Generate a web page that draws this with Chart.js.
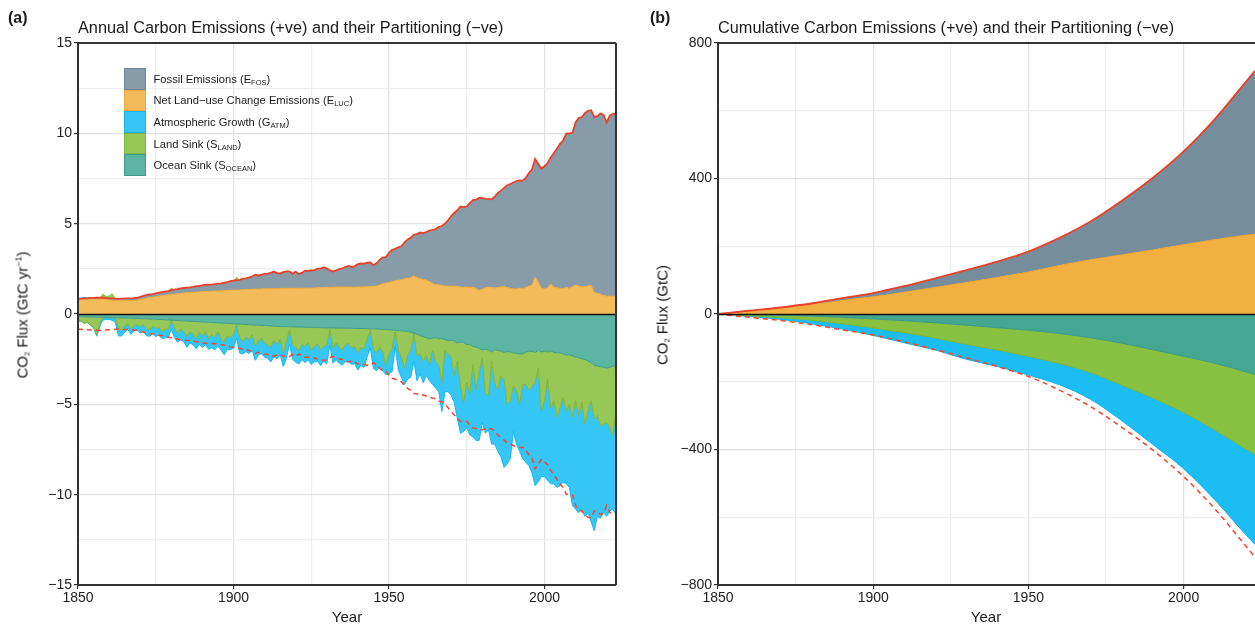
<!DOCTYPE html>
<html>
<head>
<meta charset="utf-8">
<script src="https://cdn.jsdelivr.net/npm/chart.js@4/dist/chart.umd.min.js"></script>
<style>
html, body { margin: 0; padding: 0; background: #fff; }
body { width: 1255px; height: 626px; overflow: hidden; position: relative;
  font-family: "Liberation Sans", Arial, sans-serif; color: #1a1a1a; }
canvas { position: absolute; top: 0; }
#cA { left: 0; }
#cB { left: 640px; }
.lbl { position: absolute; white-space: nowrap; }
.tag { font-weight: bold; font-size: 16px; }
.ttl { font-size: 16.3px; }
.ax { font-size: 15px; }
.ylab { transform: translate(-50%, -50%) rotate(-90deg); }
.legend { position: absolute; left: 124px; top: 68px; font-size: 11.2px; }
.legend .row { height: 21.6px; display: flex; align-items: center; }
.sw { box-sizing: border-box; width: 21.5px; height: 21.6px; border: 1px solid; margin-right: 8px; flex: none; }
sub { font-size: 7.5px; vertical-align: -2px; line-height: 0; }
sup { font-size: 9px; vertical-align: 6px; line-height: 0; }
</style>
</head>
<body>
<canvas id="cA" width="627" height="626"></canvas>
<canvas id="cB" width="615" height="626"></canvas>

<div class="lbl tag" style="left:8px;top:9px;">(a)</div>
<div class="lbl ttl" style="left:78px;top:18px;">Annual Carbon Emissions (+ve) and their Partitioning (−ve)</div>
<div class="lbl tag" style="left:650px;top:9px;">(b)</div>
<div class="lbl ttl" style="left:718px;top:18px;">Cumulative Carbon Emissions (+ve) and their Partitioning (−ve)</div>
<div class="lbl ax" style="left:347px;top:608px;transform:translateX(-50%);">Year</div>
<div class="lbl ax" style="left:986px;top:608px;transform:translateX(-50%);">Year</div>
<div class="lbl ax ylab" style="left:22px;top:315px;">CO<sub>2</sub> Flux (GtC yr<sup>−1</sup>)</div>
<div class="lbl ax ylab" style="left:662px;top:315px;">CO<sub>2</sub> Flux (GtC)</div>

<div class="legend">
  <div class="row"><div class="sw" style="background:#879ca8;border-color:#6f8796"></div><span>Fossil Emissions (E<sub>FOS</sub>)</span></div>
  <div class="row"><div class="sw" style="background:#f3bb5a;border-color:#f0a83a"></div><span>Net Land−use Change Emissions (E<sub>LUC</sub>)</span></div>
  <div class="row"><div class="sw" style="background:#35c6f6;border-color:#18b5ec"></div><span>Atmospheric Growth (G<sub>ATM</sub>)</span></div>
  <div class="row"><div class="sw" style="background:#97c857;border-color:#7fb33a"></div><span>Land Sink (S<sub>LAND</sub>)</span></div>
  <div class="row"><div class="sw" style="background:#5cb4a3;border-color:#3c9d8a"></div><span>Ocean Sink (S<sub>OCEAN</sub>)</span></div>
</div>

<script>
// ---- DATA: annual fluxes 1850-2023 (GtC/yr), sinks plotted negative ----
const years = Array.from({ length: 174 }, (_, i) => 1850 + i);

const efos = [
  0.05,0.05,0.06,0.06,0.07,0.07,0.07,0.08,0.08,0.09,
  0.09,0.10,0.10,0.10,0.11,0.12,0.12,0.13,0.13,0.14,
  0.15,0.16,0.17,0.18,0.17,0.18,0.19,0.19,0.20,0.21,
  0.24,0.25,0.26,0.28,0.28,0.28,0.28,0.30,0.33,0.33,
  0.36,0.38,0.38,0.37,0.38,0.41,0.42,0.44,0.47,0.51,
  0.53,0.55,0.56,0.62,0.62,0.66,0.71,0.80,0.74,0.79,
  0.82,0.84,0.88,0.94,0.85,0.84,0.90,0.94,0.94,0.81,
  0.93,0.80,0.85,0.97,0.96,0.98,0.98,1.06,1.05,1.12,
  1.03,0.94,0.86,0.91,0.98,1.02,1.11,1.16,1.10,1.16,
  1.26,1.30,1.29,1.33,1.33,1.17,1.26,1.40,1.46,1.43,
  1.63,1.75,1.77,1.82,1.85,2.02,2.14,2.22,2.28,2.42,
  2.55,2.56,2.66,2.81,2.95,3.08,3.21,3.29,3.45,3.64,
  3.89,4.04,4.22,4.45,4.44,4.44,4.68,4.83,4.91,5.12,
  5.03,4.92,4.88,4.89,5.05,5.22,5.33,5.46,5.67,5.77,
  5.88,5.98,5.95,5.98,6.08,6.25,6.40,6.55,6.55,6.62,
  6.80,6.90,7.00,7.40,7.70,8.00,8.20,8.50,8.60,8.50,
  9.00,9.30,9.40,9.60,9.70,9.70,9.70,9.80,10.00,10.00,
  9.60,10.00,10.10,10.10
];

const eluc = [
  0.80,0.80,0.81,0.81,0.82,0.82,0.83,0.83,0.82,0.80,
  0.78,0.76,0.75,0.74,0.74,0.74,0.74,0.74,0.75,0.76,
  0.80,0.84,0.87,0.90,0.93,0.96,0.99,1.02,1.04,1.06,
  1.08,1.10,1.12,1.14,1.16,1.18,1.19,1.20,1.21,1.22,
  1.23,1.24,1.25,1.26,1.27,1.27,1.28,1.29,1.30,1.31,
  1.32,1.33,1.33,1.34,1.35,1.36,1.37,1.38,1.38,1.39,
  1.40,1.40,1.40,1.41,1.41,1.41,1.42,1.42,1.42,1.42,
  1.42,1.42,1.42,1.43,1.43,1.43,1.44,1.45,1.46,1.47,
  1.48,1.48,1.49,1.50,1.50,1.50,1.50,1.50,1.49,1.49,
  1.50,1.50,1.50,1.51,1.52,1.53,1.55,1.60,1.68,1.72,
  1.75,1.80,1.84,1.87,1.90,1.95,1.98,2.00,2.12,2.00,
  1.96,1.92,1.88,1.80,1.70,1.62,1.62,1.58,1.55,1.55,
  1.53,1.55,1.52,1.50,1.48,1.50,1.46,1.48,1.42,1.30,
  1.38,1.45,1.48,1.46,1.44,1.48,1.50,1.52,1.46,1.42,
  1.40,1.38,1.44,1.40,1.45,1.55,1.60,2.03,1.75,1.42,
  1.38,1.45,1.66,1.50,1.45,1.42,1.40,1.48,1.40,1.52,
  1.60,1.55,1.50,1.52,1.55,1.58,1.20,1.15,1.10,1.02,
  1.00,0.98,0.98,0.98
];

const socean = [
  -0.15,-0.15,-0.16,-0.16,-0.17,-0.17,-0.18,-0.18,-0.19,-0.19,
  -0.20,-0.20,-0.21,-0.21,-0.22,-0.22,-0.23,-0.23,-0.24,-0.24,
  -0.25,-0.26,-0.27,-0.28,-0.28,-0.29,-0.30,-0.31,-0.32,-0.33,
  -0.34,-0.35,-0.36,-0.37,-0.38,-0.39,-0.40,-0.41,-0.42,-0.43,
  -0.44,-0.45,-0.46,-0.47,-0.48,-0.49,-0.50,-0.51,-0.52,-0.53,
  -0.54,-0.55,-0.56,-0.57,-0.58,-0.59,-0.60,-0.61,-0.62,-0.63,
  -0.64,-0.65,-0.66,-0.67,-0.68,-0.69,-0.70,-0.70,-0.71,-0.71,
  -0.72,-0.72,-0.73,-0.73,-0.74,-0.74,-0.75,-0.75,-0.76,-0.76,
  -0.77,-0.77,-0.77,-0.78,-0.78,-0.78,-0.79,-0.79,-0.79,-0.80,
  -0.80,-0.80,-0.81,-0.81,-0.82,-0.82,-0.83,-0.84,-0.85,-0.86,
  -0.87,-0.88,-0.90,-0.92,-0.93,-0.95,-0.98,-1.00,-1.05,-1.12,
  -1.20,-1.25,-1.32,-1.38,-1.35,-1.30,-1.38,-1.35,-1.42,-1.48,
  -1.45,-1.50,-1.60,-1.55,-1.58,-1.70,-1.68,-1.80,-1.82,-1.90,
  -2.00,-1.95,-2.00,-2.10,-1.98,-2.02,-2.05,-2.12,-2.08,-2.10,
  -2.15,-2.18,-2.22,-2.20,-2.12,-2.05,-2.08,-2.12,-2.02,-2.10,
  -2.05,-2.10,-2.05,-2.12,-2.15,-2.15,-2.20,-2.28,-2.25,-2.32,
  -2.38,-2.42,-2.48,-2.52,-2.60,-2.70,-2.85,-2.88,-2.92,-2.95,
  -3.00,-2.95,-2.90,-2.85
];

const sland = [
  -0.15,-0.25,-0.35,-0.30,-0.45,-0.55,-0.95,-0.40,0.25,0.10,
  0.15,0.30,0.05,-0.55,-0.70,-0.45,-0.30,-0.60,-0.40,-0.35,
  -0.45,-0.30,-0.55,-0.60,-0.40,-0.50,-0.45,-0.65,-0.55,-0.50,
  0.15,-0.40,-0.70,-0.45,-0.60,-0.85,-0.55,-0.70,-0.95,-0.60,
  -0.75,-0.55,-0.90,-0.65,-0.80,-0.50,-0.85,-1.05,-0.70,-0.75,
  -0.60,0.20,-0.75,-0.95,-0.70,-0.85,-0.55,-1.15,-0.90,-0.70,
  -0.95,-1.05,-1.15,-0.80,-1.00,-0.70,-1.45,-0.85,-0.15,-0.95,
  -1.15,-1.30,-0.95,-1.05,-0.85,-1.25,-1.05,-0.90,-1.20,-1.00,
  -0.95,-0.05,-1.15,-0.80,-1.05,-1.20,-0.90,-0.85,-1.10,-1.00,
  -1.35,-1.05,-1.10,-0.60,-0.05,-1.15,-1.30,-1.00,-1.25,-2.00,
  -1.33,-1.02,-0.10,-1.08,-1.47,-2.05,-1.32,-1.00,-0.05,-1.18,
  -1.00,-1.35,-0.98,-1.42,-0.65,-1.30,-1.42,-2.45,-0.58,-0.72,
  -0.95,-1.90,-1.00,-2.45,-3.32,-2.10,-2.72,-1.00,-2.38,-1.30,
  -0.40,-2.45,-2.50,-0.50,-1.82,-2.18,-1.35,-1.48,-2.92,-2.70,
  -1.85,-2.02,-2.78,-1.70,-1.78,-2.15,-1.92,-1.68,-0.98,-3.30,
  -2.75,-1.50,-3.15,-2.68,-3.55,-3.05,-2.40,-3.12,-2.75,-3.38,
  -2.42,-3.18,-2.42,-3.58,-2.80,-2.10,-2.95,-2.72,-3.28,-3.15,
  -3.00,-3.35,-3.80,-2.55
];

const gatm = [
  -0.10,0.06,0.08,0.06,0.03,-0.05,-0.10,-0.12,-0.15,-0.10,
  -0.10,-0.15,-0.25,-0.45,-0.30,-0.35,-0.30,-0.30,-0.28,-0.30,
  -0.35,-0.40,-0.38,-0.35,-0.40,-0.45,-0.42,-0.40,-0.45,-0.48,
  -0.50,-0.55,-0.50,-0.60,-0.55,-0.60,-0.65,-0.60,-0.55,-0.65,
  -0.65,-0.70,-0.60,-0.75,-0.70,-0.80,-0.65,-0.70,-0.75,-0.70,
  -0.75,-0.80,-0.85,-0.70,-0.80,-0.75,-0.85,-0.80,-0.75,-0.85,
  -0.80,-0.75,-0.85,-0.90,-0.80,-0.85,-0.75,-0.90,-0.80,-0.85,
  -0.80,-0.75,-0.85,-0.90,-0.95,-0.80,-0.85,-0.95,-0.90,-0.85,
  -1.05,-0.90,-0.80,-0.95,-0.90,-0.85,-0.95,-1.00,-0.90,-0.95,
  -0.95,-1.00,-1.05,-0.95,-1.00,-1.05,-1.00,-1.10,-1.05,-0.50,
  -1.10,-1.30,-0.80,-1.10,-1.10,-0.90,-1.30,-1.50,-1.50,-1.40,
  -1.10,-1.20,-1.10,-0.90,-1.90,-1.50,-1.50,-1.60,-2.30,-2.10,
  -2.10,-1.50,-3.20,-2.60,-1.60,-2.50,-2.30,-4.00,-2.80,-3.80,
  -3.60,-2.20,-1.90,-4.60,-3.40,-3.40,-4.50,-4.90,-3.30,-3.20,
  -2.50,-3.00,-2.60,-4.10,-4.30,-4.20,-4.80,-5.70,-6.30,-3.60,
  -4.20,-5.60,-4.20,-4.60,-3.90,-4.30,-4.70,-4.00,-4.60,-4.90,
  -6.00,-5.40,-5.90,-5.10,-5.60,-6.70,-6.20,-5.60,-5.10,-4.90,
  -5.20,-4.60,-4.10,-5.70
];

// ---- DATA: cumulative totals since 1850 (GtC) ----
const cumYears = [1850,1860,1870,1880,1890,1900,1910,1920,1930,1940,1950,1960,1970,1980,1990,2000,2010,2020,2023];
const cumFos   = [0,0.8,2.0,3.9,6.8,11.1,17.9,26.8,36.6,47.1,60.7,81.6,113.3,159.3,212.3,275.5,355.3,452.1,482.3];
const cumLuc   = [0,8.9,17.2,27.1,39.9,50.7,64.3,78.4,92.9,107.8,123.7,143.1,159.9,174.4,189.0,204.4,219.3,232.5,235.4];
const cumOcean = [0,-1.8,-3.7,-6.3,-10.0,-14.4,-19.9,-26.2,-33.1,-40.4,-48.0,-57.4,-70.1,-86.2,-105.3,-124.8,-145.3,-170.7,-178.6];
const cumLand  = [0,-3.4,-6.7,-12.1,-18.5,-26.8,-35.2,-44.9,-56.5,-65.6,-77.4,-88.7,-102.8,-123.2,-142.3,-166.0,-196.8,-227.5,-235.7];
const cumAtm   = [0,-2,-5.5,-10,-16,-22,-30,-35,-44,-49,-55,-63,-79,-105,-137,-166,-206,-253,-266];

// ---- UTILS ----
const FONT = '"Liberation Sans", Arial, sans-serif';
const minus = v => (v < 0 ? '\u2212' + Math.abs(v) : String(v));
const pts = (xs, arr) => arr.map((v, i) => ({ x: xs[i], y: Math.round(v * 1000) / 1000 }));

// stack boundaries, positives above emissions, negatives below zero
function stackAnnual() {
  const lucTop = eluc.slice();
  const fosTop = eluc.map((v, i) => v + efos[i]);
  const landUp = fosTop.map((v, i) => v + Math.max(sland[i], 0));
  const atmUp  = landUp.map((v, i) => v + Math.max(gatm[i], 0));
  const oceanBot = socean.slice();
  const landBot = socean.map((v, i) => v + Math.min(sland[i], 0));
  const atmBot  = landBot.map((v, i) => v + Math.min(gatm[i], 0));
  return { lucTop, fosTop, landUp, atmUp, oceanBot, landBot, atmBot };
}

const frame = {
  id: 'frame',
  afterDatasetsDraw(chart, args, opts) {
    const { ctx, chartArea: a, scales: { y } } = chart;
    const y0 = Math.round(y.getPixelForValue(0)) + 0.5;
    ctx.save();
    ctx.strokeStyle = '#111';
    ctx.lineWidth = 1.6;
    ctx.beginPath(); ctx.moveTo(a.left, y0); ctx.lineTo(a.right, y0); ctx.stroke();
    ctx.strokeStyle = '#333';
    ctx.lineWidth = 2;
    ctx.beginPath();
    ctx.moveTo(a.left, a.top); ctx.lineTo(a.right, a.top);
    ctx.moveTo(a.left, a.top); ctx.lineTo(a.left, a.bottom); ctx.lineTo(a.right, a.bottom);
    if (opts.right) { ctx.moveTo(a.right, a.top); ctx.lineTo(a.right, a.bottom); }
    ctx.stroke();
    ctx.restore();
  }
};

function area(data, bg, border, fill, bw = 1) {
  return { data, backgroundColor: bg, borderColor: border, borderWidth: bw, fill,
           pointRadius: 0, tension: 0, cubicInterpolationMode: 'default' };
}

function scalesFor(yMin, yMax, yStep, yLabelStep) {
  const major = '#e2e2e2', minor = '#efefef';
  return {
    x: {
      type: 'linear', min: 1850, max: 2023,
      afterFit: s => { s.height = 41; },
      border: { display: false },
      grid: {
        color: c => (c.tick && c.tick.value % 50 === 0 ? major : minor),
        lineWidth: 1.2, tickLength: 4,
        tickColor: c => (c.tick && c.tick.value % 50 === 0 ? '#333' : 'rgba(0,0,0,0)')
      },
      ticks: {
        stepSize: 25, includeBounds: false, autoSkip: false, maxRotation: 0, padding: 1,
        color: '#222', font: { family: FONT, size: 14 },
        callback: v => (v % 50 === 0 ? String(v) : '')
      }
    },
    y: {
      min: yMin, max: yMax,
      afterFit: s => { s.width = 78; },
      border: { display: false },
      grid: {
        color: c => (c.tick && c.tick.value === 0 ? 'rgba(0,0,0,0)' :
                     (c.tick && c.tick.value % yLabelStep === 0 ? major : minor)),
        lineWidth: 1.2, tickLength: 4,
        tickColor: c => (c.tick && c.tick.value % yLabelStep === 0 ? '#333' : 'rgba(0,0,0,0)')
      },
      ticks: {
        stepSize: yStep, padding: 2, color: '#222', font: { family: FONT, size: 14 },
        callback: v => (v % yLabelStep === 0 ? minus(v) : '')
      }
    }
  };
}

// ---- PANEL A ----
function drawAnnual() {
  const s = stackAnnual();
  const P = arr => pts(years, arr);
  new Chart(document.getElementById('cA'), {
    type: 'line',
    data: {
      datasets: [
        area(P(s.lucTop), '#f3bb5a', '#f0a83a', 'origin'),
        area(P(s.fosTop), '#879ca8', '#879ca8', 0, 0),
        area(P(s.landUp), '#97c857', '#97c857', 1, 0),
        area(P(s.atmUp), '#35c6f6', '#35c6f6', 2, 0),
        area(P(s.oceanBot), '#5cb4a3', '#3c9d8a', 'origin'),
        area(P(s.landBot), '#97c857', '#7fb33a', 4),
        area(P(s.atmBot), '#35c6f6', '#18b5ec', 5),
        { data: P(s.fosTop), borderColor: '#e8402a', borderWidth: 1.8, fill: false, pointRadius: 0, order: -2 },
        { data: P(s.fosTop.map(v => -v)), borderColor: '#f2452e', borderWidth: 1.5, borderDash: [5, 4],
          fill: false, pointRadius: 0, order: -1 }
      ]
    },
    options: {
      responsive: false, devicePixelRatio: 1, animation: false,
      layout: { padding: { top: 43, right: 11, bottom: 0, left: 0 } },
      plugins: { legend: { display: false }, tooltip: { enabled: false }, frame: { right: true } },
      scales: scalesFor(-15, 15, 2.5, 5)
    },
    plugins: [frame]
  });
}

// ---- PANEL B ----
function drawCumulative() {
  const P = arr => pts(cumYears, arr);
  const fosTop = cumLuc.map((v, i) => v + cumFos[i]);
  const landBot = cumOcean.map((v, i) => v + cumLand[i]);
  const atmBot = landBot.map((v, i) => v + cumAtm[i]);
  const smooth = d => Object.assign(d, { cubicInterpolationMode: 'monotone' });
  new Chart(document.getElementById('cB'), {
    type: 'line',
    data: {
      datasets: [
        smooth(area(P(cumLuc), '#f2b043', '#f0a530', 'origin')),
        smooth(area(P(fosTop), '#768e9c', '#768e9c', 0, 0)),
        smooth(area(P(cumOcean), '#45a692', '#3a9884', 'origin')),
        smooth(area(P(landBot), '#88c13f', '#7ab235', 2)),
        smooth(area(P(atmBot), '#1cbdf3', '#12b2ea', 3)),
        smooth({ data: P(fosTop), borderColor: '#e8402a', borderWidth: 1.8, fill: false, pointRadius: 0, order: -2 }),
        smooth({ data: P(fosTop.map(v => -v)), borderColor: '#f2452e', borderWidth: 1.5, borderDash: [5, 4],
          fill: false, pointRadius: 0, order: -1 })
      ]
    },
    options: {
      responsive: false, devicePixelRatio: 1, animation: false,
      layout: { padding: { top: 43, right: 0, bottom: 0, left: 0 } },
      plugins: { legend: { display: false }, tooltip: { enabled: false }, frame: { right: false } },
      scales: scalesFor(-800, 800, 200, 400)
    },
    plugins: [frame]
  });
}

drawAnnual();
drawCumulative();
</script>
</body>
</html>
